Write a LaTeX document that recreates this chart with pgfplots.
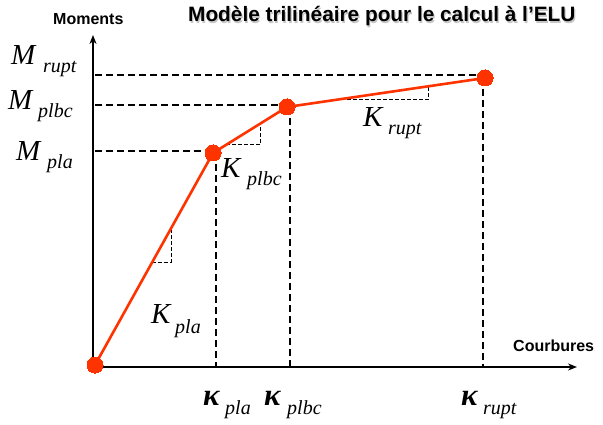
\documentclass[border=0pt]{standalone}
\usepackage{pgfplots}
\pgfplotsset{compat=1.18}
\usepackage{fontspec}
\setmainfont{Liberation Sans}
\newfontfamily\tnr{Liberation Serif}
\usetikzlibrary{arrows.meta}
\definecolor{curve}{HTML}{FF3300}
\newcommand{\bigLbl}{\fontsize{29}{29}\selectfont\tnr\itshape}
\newcommand{\subLbl}{\fontsize{20}{20}\selectfont\tnr\itshape}
\newcommand{\kapLbl}{\fontsize{31}{31}\selectfont\tnr\bfseries\itshape}
\begin{document}
\begin{tikzpicture}
\begin{axis}[
  scale only axis, width=603pt, height=424pt,
  xmin=0, xmax=603, ymin=0, ymax=424,
  hide axis, clip=false,
]
% axes
\addplot[black, line width=2pt, -{Stealth[length=9pt,width=7pt]}] coordinates {(93,57) (93,389)};
\addplot[black, line width=2pt, -{Stealth[length=9pt,width=7pt]}] coordinates {(92,57) (577,57)};
% dashed guide lines
\addplot[black, line width=1.6pt, dash pattern=on 7pt off 4pt] coordinates {(95,273) (213,273)};
\addplot[black, line width=1.6pt, dash pattern=on 7pt off 4pt] coordinates {(95,319) (287,319)};
\addplot[black, line width=1.6pt, dash pattern=on 7pt off 4pt] coordinates {(95,349) (485,349)};
\addplot[black, line width=1.6pt, dash pattern=on 7pt off 4pt] coordinates {(216,271) (216,58)};
\addplot[black, line width=1.6pt, dash pattern=on 7pt off 4pt] coordinates {(290,317) (290,58)};
\addplot[black, line width=1.6pt, dash pattern=on 7pt off 4pt] coordinates {(483,346) (483,58)};
% slope triangles
\addplot[black, line width=1pt, dash pattern=on 4pt off 2pt] coordinates {(152,162) (171,162) (171,196)};
\addplot[black, line width=1pt, dash pattern=on 4pt off 2pt] coordinates {(226,279) (260,279) (260,300)};
\addplot[black, line width=1pt, dash pattern=on 4pt off 2pt] coordinates {(335,324) (428,324) (428,338)};
% curve
\addplot[curve, line width=2.6pt, mark=*, mark size=8pt, mark options={fill=curve, draw=curve, line width=0pt}] coordinates {(95,59) (213,271) (287,317) (485,346)};
% texts
\node[anchor=base west, inner sep=0pt, text=gray!45] at (axis cs:189.2,400.8) {\fontsize{20.8}{20.8}\selectfont\bfseries Modèle trilinéaire pour le calcul à l’ELU};
\node[anchor=base west, inner sep=0pt] at (axis cs:188,402) {\fontsize{20.8}{20.8}\selectfont\bfseries Modèle trilinéaire pour le calcul à l’ELU};
\node[anchor=base west, inner sep=0pt] at (axis cs:53,399) {\fontsize{16}{16}\selectfont\bfseries Moments};
\node[anchor=base west, inner sep=0pt] at (axis cs:513,73) {\fontsize{16}{16}\selectfont\bfseries Courbures};
% M labels
\node[anchor=base west, inner sep=0pt] at (axis cs:11,359) {\bigLbl M};
\node[anchor=base west, inner sep=0pt] at (axis cs:43,351) {\subLbl rupt};
\node[anchor=base west, inner sep=0pt] at (axis cs:8,314) {\bigLbl M};
\node[anchor=base west, inner sep=0pt] at (axis cs:38,306) {\subLbl plbc};
\node[anchor=base west, inner sep=0pt] at (axis cs:16,263) {\bigLbl M};
\node[anchor=base west, inner sep=0pt] at (axis cs:47,255) {\subLbl pla};
% K labels
\node[anchor=base west, inner sep=0pt] at (axis cs:221,247) {\bigLbl K};
\node[anchor=base west, inner sep=0pt] at (axis cs:247,239) {\subLbl plbc};
\node[anchor=base west, inner sep=0pt] at (axis cs:363,297) {\bigLbl K};
\node[anchor=base west, inner sep=0pt] at (axis cs:388,290) {\subLbl rupt};
\node[anchor=base west, inner sep=0pt] at (axis cs:151,101) {\bigLbl K};
\node[anchor=base west, inner sep=0pt] at (axis cs:175,91) {\subLbl pla};
% kappa labels
\node[anchor=base west, inner sep=0pt] at (axis cs:203,19) {\kapLbl κ};
\node[anchor=base west, inner sep=0pt] at (axis cs:225,10) {\subLbl pla};
\node[anchor=base west, inner sep=0pt] at (axis cs:264,19) {\kapLbl κ};
\node[anchor=base west, inner sep=0pt] at (axis cs:287,10) {\subLbl plbc};
\node[anchor=base west, inner sep=0pt] at (axis cs:461,19) {\kapLbl κ};
\node[anchor=base west, inner sep=0pt] at (axis cs:483,10) {\subLbl rupt};
\end{axis}
\pgfresetboundingbox
\path (current axis.south west) rectangle (current axis.north east);
\end{tikzpicture}
\end{document}
